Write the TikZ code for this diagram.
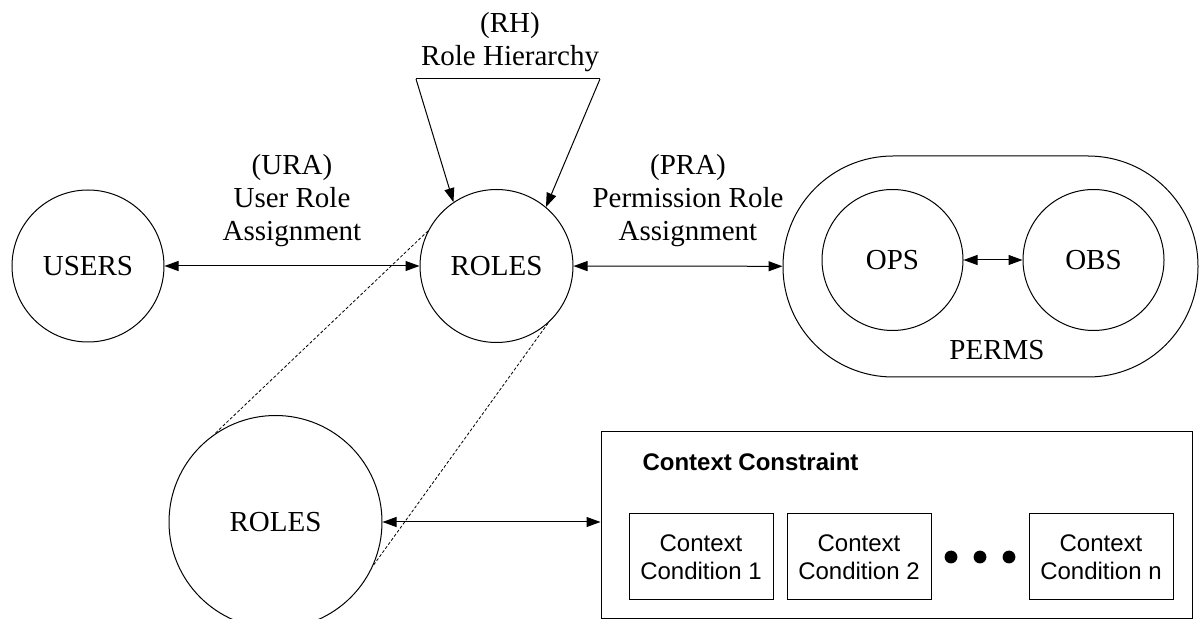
\documentclass[tikz,border=0pt]{standalone}
\usepackage{fontspec}
\setmainfont{Liberation Serif}
\setsansfont{Liberation Sans}
\usetikzlibrary{arrows.meta}

\begin{document}
\begin{tikzpicture}[x=0.5pt, y=-0.5pt, line width=0.5pt,
		>={Triangle[length=7pt, width=5pt]},
		font=\fontsize{14.5}{16.5}\selectfont]
		\clip (0,0) rectangle (1199,619);
		\begin{scope}[every node/.style={circle, draw}]
			\node[minimum size=76pt] (U) at (88,266) {USERS};
			\node[minimum size=76.5pt] (R) at (496.5,266) {ROLES};
			\node[minimum size=106.5pt] (R2) at (275.5,522) {ROLES};
			\node[minimum size=70.5pt] (OPS) at (892.5,260) {OPS};
			\node[minimum size=70.5pt] (OBS) at (1093.5,260) {OBS};
		\end{scope}
		\node[draw, rounded corners=55pt, minimum width=207.5pt, minimum height=110.5pt] (P) at (990.5,266.5) {};
		\node (Ptxt) at (997,350) {PERMS};
		% labels
		\node[align=center] (URA) at (292,201) {(URA)\\User Role\\Assignment};
		\node[align=center] (PRA) at (688,201) {(PRA)\\Permission Role\\Assignment};
		\node[align=center] (RH) at (510,42) {(RH)\\Role Hierarchy};
		\coordinate (RHl) at (416,79);
		\coordinate (RHr) at (600,79);
		\draw (RHl) -- (RHr);
		\draw[->] (RHl) -- (R.124);
		\draw[->] (RHr) -- (R.50);
		% context constraint
		\node[draw, minimum width=295.5pt, minimum height=93pt] (CC) at (896.5,525) {};
		\node[anchor=west, inner sep=0pt, font=\sffamily\bfseries\fontsize{12}{14}\selectfont] (CCt) at (642,462) {Context Constraint};
		\begin{scope}[every node/.style={draw, align=center, minimum width=72pt, minimum height=43pt, font=\sffamily\fontsize{12}{14}\selectfont}]
			\node (C1) at (701,557) {Context\\Condition 1};
			\node (C2) at (859,557) {Context\\Condition 2};
			\node (Cn) at (1101,557) {Context\\Condition n};
		\end{scope}
		\foreach \x in {951,980,1009}
			\fill (\x,557) circle (3.2pt);
		\begin{scope}[every edge/.style={draw, <->}]
			\path (U) edge (R);
			\path (R) edge (P);
			\path (OPS) edge (OBS);
			\path (R2.east) edge (R2.east -| CC.west);
		\end{scope}
		\begin{scope}[every path/.style={dash pattern=on 1.5pt off 1pt, line width=0.4pt}]
			\draw (R.153) -- (R2.125);
			\draw (R.-48) -- (R2.-24);
		\end{scope}
	\end{tikzpicture}
\end{document}
